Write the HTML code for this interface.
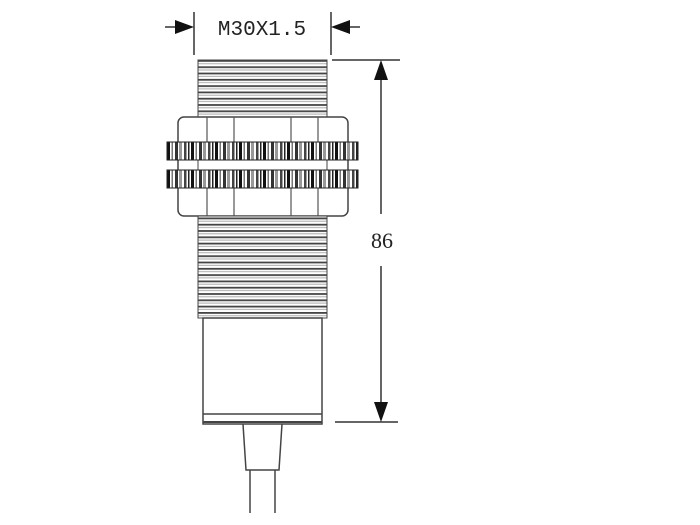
<!DOCTYPE html>
<html><head><style>html,body{margin:0;padding:0;background:#fff}svg{display:block}</style></head>
<body>
<svg width="700" height="525" viewBox="0 0 700 525" xmlns="http://www.w3.org/2000/svg">
<defs>
<pattern id="thr" x="0" y="60" width="10" height="6.3" patternUnits="userSpaceOnUse">
<rect width="10" height="6.3" fill="#fff"/>
<rect y="0" width="10" height="1.8" fill="#444"/>
<rect y="3.2" width="10" height="1" fill="#aaa"/>
</pattern>
<pattern id="knurl" x="167" y="0" width="24" height="20" patternUnits="userSpaceOnUse">
<rect width="24" height="20" fill="#fff"/>
<rect x="0" width="3" height="20" fill="#111"/>
<rect x="4.5" width="1.5" height="20" fill="#777"/>
<rect x="8" width="3" height="20" fill="#333"/>
<rect x="12" width="3" height="20" fill="#999"/>
<rect x="17" width="2.5" height="20" fill="#444"/>
<rect x="21" width="1.5" height="20" fill="#222"/>
</pattern>
</defs>
<g stroke="#333" fill="none" stroke-width="1.5">
<line x1="194" y1="12" x2="194" y2="55"/>
<line x1="331" y1="12" x2="331" y2="55"/>
<line x1="165" y1="27" x2="180" y2="27"/>
<line x1="345" y1="27" x2="360" y2="27"/>
</g>
<polygon points="194,27 175,20 175,34" fill="#111"/>
<polygon points="331,27 350,20 350,34" fill="#111"/>
<text x="262" y="35" font-family="Liberation Mono, monospace" font-size="21" text-anchor="middle" fill="#222">M30X1.5</text>
<g stroke="#333" stroke-width="1.5">
<line x1="332" y1="60" x2="400" y2="60"/>
<line x1="335" y1="422" x2="398" y2="422"/>
<line x1="381" y1="75" x2="381" y2="214"/>
<line x1="381" y1="266" x2="381" y2="405"/>
</g>
<polygon points="381,60 374,80 388,80" fill="#111"/>
<polygon points="381,422 374,402 388,402" fill="#111"/>
<text x="382" y="248" font-family="Liberation Serif, serif" font-size="22" text-anchor="middle" fill="#222">86</text>
<rect x="198" y="60" width="129" height="57" fill="url(#thr)" stroke="#444" stroke-width="1"/>
<rect x="178" y="117" width="170" height="99" rx="6" fill="#fff" stroke="#444" stroke-width="1.5"/>
<g stroke="#555" stroke-width="1.2">
<line x1="207" y1="117" x2="207" y2="216"/>
<line x1="234" y1="117" x2="234" y2="216"/>
<line x1="291" y1="117" x2="291" y2="216"/>
<line x1="318" y1="117" x2="318" y2="216"/>
</g>
<rect x="198" y="160" width="129" height="10" fill="#fff" stroke="#444" stroke-width="1"/>
<rect x="167" y="142" width="191" height="18" fill="url(#knurl)" stroke="#222" stroke-width="1"/>
<rect x="167" y="170" width="191" height="18" fill="url(#knurl)" stroke="#222" stroke-width="1"/>
<rect x="198" y="216" width="129" height="102" fill="url(#thr)" stroke="#444" stroke-width="1"/>
<rect x="203" y="318" width="119" height="106" fill="#fff" stroke="#444" stroke-width="1.5"/>
<line x1="203" y1="414" x2="322" y2="414" stroke="#444" stroke-width="1.5"/>
<line x1="203" y1="422" x2="322" y2="422" stroke="#444" stroke-width="2"/>
<polyline points="243,424 246,470 279,470 282,424" fill="none" stroke="#444" stroke-width="1.5"/>
<line x1="250" y1="470" x2="250" y2="513" stroke="#444" stroke-width="1.5"/>
<line x1="275" y1="470" x2="275" y2="513" stroke="#444" stroke-width="1.5"/>
</svg>
</body></html>
